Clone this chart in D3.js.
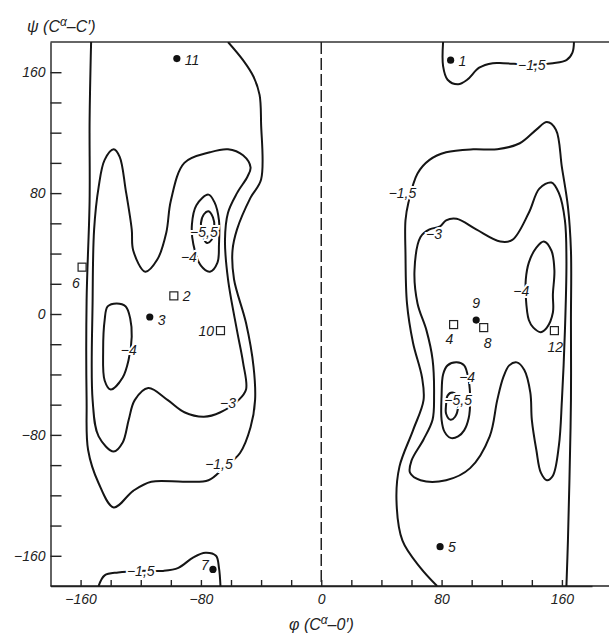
<!DOCTYPE html>
<html>
<head>
<meta charset="utf-8">
<script src="https://cdn.jsdelivr.net/npm/d3@7"></script>
<style>
  body { margin: 0; background: #fff; }
  svg { display: block; font-family: "Liberation Sans", Arimo, sans-serif; }
  .tick text { font-style: italic; font-size: 14px; fill: #222; }
  .contour { fill: none; stroke: #151515; stroke-width: 2; }
  .clabel { font-style: italic; font-size: 14px; fill: #1a1a1a;
            stroke: #fff; stroke-width: 4px; paint-order: stroke; }
  .plabel { font-style: italic; font-size: 14px; fill: #1a1a1a; }
</style>
</head>
<body>
<svg id="chart" width="609" height="636"></svg>
<script>

// contour levels as [phi, psi] points (degrees)
var levelLeft15 = [[-153,180],[-154,128],[-154,75],[-156,9],[-156,-57],[-155,-90],[-148,-112],
  [-138,-128],[-125,-117],[-113,-111],[-91,-111],[-75,-110],[-65,-102],[-54,-92],[-47,-75],
  [-44,-57],[-45,-35],[-50,-6],[-58,23],[-59,42],[-56,56],[-47,77],[-40,89],[-40,126],
  [-41,145],[-45,157],[-52,168],[-62,180]];

var levelLeft3 = [[-138,109],[-134,104],[-130,82],[-126,56],[-125,42],[-117,28],[-109,36],
  [-103,54],[-100,75],[-91,100],[-74,107],[-62,109],[-52,105],[-47,97],[-49,91],[-56,80],
  [-62,67],[-64,49],[-62,23],[-56,-11],[-52,-32],[-50,-50],[-55,-57],[-67,-65],[-78,-68],
  [-91,-65],[-102,-57],[-115,-49],[-124,-57],[-128,-70],[-132,-85],[-138,-91],[-148,-81],
  [-152,-57],[-152,9],[-151,56],[-148,84],[-144,102]];

var levelLeft4a = [[-136,7],[-130,5],[-127,-3],[-126,-15],[-128,-30],[-132,-42],[-140,-50],
  [-144,-44],[-145,-24],[-144,-4],[-142,5]];

var levelLeft4b = [[-75,79],[-71,74],[-68,62],[-68,46],[-69,34],[-74,28],[-80,32],[-85,46],
  [-86,59],[-83,72]];

var levelLeft55 = [[-75,68],[-72,64],[-71,57],[-73,49],[-76,47],[-79,52],[-80,60],[-78,66]];

var levelBottom15 = [[-148,-180],[-144,-173],[-135,-171],[-120,-170],[-105,-170],[-95,-168],
  [-85,-161],[-77,-158],[-70,-160],[-68,-168],[-67,-180]];

var levelTop15 = [[81,180],[81,164],[84,155],[91,152],[97,155],[105,163],[114,166],[121,166],
  [140,165],[154,166],[163,168],[167,173],[168,180]];

var levelRight15 = [[77,-180],[66,-168],[54,-150],[50,-123],[52,-101],[61,-77],[68,-57],
  [67,-42],[61,-19],[57,7],[56,40],[56,62],[58,74],[64,93],[72,102],[83,107],[101,109],
  [117,109],[132,113],[143,122],[150,127],[156,122],[160,97],[164,71],[166,42],[166,-4],
  [166,-57],[165,-110],[164,-150],[163,-180]];

var levelRight3 = [[79,58],[83,62],[90,63],[103,56],[119,48],[127,49],[138,67],[145,83],
  [153,87],[158,80],[162,62],[163,36],[162,-11],[160,-57],[158,-87],[154,-107],[150,-110],
  [146,-105],[143,-90],[140,-70],[139,-52],[135,-37],[130,-32],[125,-34],[121,-42],
  [117,-57],[112,-81],[99,-102],[83,-110],[66,-110],[59,-105],[60,-97],[68,-83],[74,-70],
  [75,-54],[74,-30],[70,-11],[64,7],[62,29],[66,51],[72,56]];

var levelRight4a = [[148,48],[153,42],[155,29],[154,13],[154,1],[150,-9],[146,-12],[141,-9],
  [138,-4],[136,11],[136,23],[138,34],[143,44]];

var levelRight4b = [[80,-70],[80,-54],[81,-40],[84,-34],[90,-32],[95,-34],[98,-44],[99,-57],
  [98,-69],[95,-77],[91,-81],[86,-82],[82,-78]];

var levelRight55 = [[87,-52],[90,-54],[91,-61],[89,-68],[86,-70],[83,-66],[83,-60],[84,-54]];

var contours = [
  { pts: levelLeft15, closed: false }, { pts: levelLeft3, closed: true },
  { pts: levelLeft4a, closed: true }, { pts: levelLeft4b, closed: true },
  { pts: levelLeft55, closed: true }, { pts: levelBottom15, closed: false },
  { pts: levelTop15, closed: false }, { pts: levelRight15, closed: false },
  { pts: levelRight3, closed: true }, { pts: levelRight4a, closed: true },
  { pts: levelRight4b, closed: true }, { pts: levelRight55, closed: true }
];

// contour value labels
var levelNames = ["−1,5", "−1,5", "−1,5", "−1,5", "−3", "−3", "−4", "−4", "−4", "−4", "−5,5", "−5,5"];
var levelAt = [[140,165],[54,80],[-68,-99],[-120,-170],[-62,-59],[75,53],[-128,-24],[-88,38],
  [133,15],[97,-42],[-78,54],[91,-57]];

// conformations: dots and squares
var dotNames = ["1", "11", "3", "9", "5", "7"];
var dotAt = [[86,168],[-96,169],[-114,-2],[103,-4],[79,-154],[-72,-169]];
var squareNames = ["6", "2", "10", "4", "8", "12"];
var squareAt = [[-159,31],[-98,12],[-67,-11],[88,-7],[108,-9],[155,-11]];

var ticks = d3.range(-160, 161, 20);

var svg = d3.select('#chart');
var x = d3.scaleLinear().domain([-180, 180]).range([50.5, 592]);
var y = d3.scaleLinear().domain([-180, 180]).range([586, 42]);

// clip to the map
svg.append('clipPath').attr('id', 'map')
  .append('rect').attr('x', 50.5).attr('y', 42).attr('width', 560).attr('height', 544);

// frame lines
svg.append('line').attr('x1', 50.5).attr('x2', 609).attr('y1', y(180)).attr('y2', y(180))
  .attr('stroke', '#333').attr('stroke-width', 1.4);

// phi = 0 dashed line
svg.append('line').attr('x1', x(0)).attr('x2', x(0)).attr('y1', y(180)).attr('y2', y(-180))
  .attr('stroke', '#222').attr('stroke-width', 1.5).attr('stroke-dasharray', '12,4');

// axes
var fmt = function(d){ return d % 80 === 0 ? d3.format('d')(d) : ''; };

svg.append('g')
  .attr('transform', 'translate(50.5,0)')
  .call(d3.axisLeft(y).tickValues(ticks).tickSize(-11).tickSizeOuter(0).tickPadding(5).tickFormat(fmt));

svg.append('g')
  .attr('transform', 'translate(0,586)')
  .call(d3.axisBottom(x).tickValues(ticks).tickSize(-6).tickSizeOuter(0).tickPadding(8).tickFormat(fmt));

svg.selectAll('.domain, .tick line').attr('stroke', '#222').attr('stroke-width', 1.4);
svg.append('line').attr('x1', 50.5).attr('x2', 609).attr('y1', 586).attr('y2', 586)
  .attr('stroke', '#222').attr('stroke-width', 1.6);

// contours
var g = svg.append('g').attr('clip-path', 'url(#map)');
contours.forEach(function(c){
  var line = d3.line()
    .x(function(d){ return x(d[0]); })
    .y(function(d){ return y(d[1]); })
    .curve(c.closed ? d3.curveCatmullRomClosed.alpha(0.5) : d3.curveCatmullRom.alpha(0.5));
  g.append('path').attr('class', 'contour').attr('d', line(c.pts));
});

g.selectAll('.clabel').data(levelNames).enter().append('text')
  .attr('class', 'clabel')
  .attr('x', function(d, i){ return x(levelAt[i][0]); })
  .attr('y', function(d, i){ return y(levelAt[i][1]); })
  .attr('text-anchor', 'middle')
  .attr('dominant-baseline', 'central')
  .text(function(d){ return d; });

// points
svg.selectAll('.dot').data(dotAt).enter().append('circle')
  .attr('cx', function(d){ return x(d[0]); })
  .attr('cy', function(d){ return y(d[1]); })
  .attr('r', 3.6).attr('fill', '#111');

svg.selectAll('.sq').data(squareAt).enter().append('rect')
  .attr('x', function(d){ return x(d[0]) - 4; })
  .attr('y', function(d){ return y(d[1]) - 4; })
  .attr('width', 8).attr('height', 8)
  .attr('fill', '#fff').attr('stroke', '#222').attr('stroke-width', 1.2);

// label offsets (px) for each point label
var dotOff = [[8,1],[8,1],[8,3],[-4,-17],[8,0],[-12,-4]];
var sqOff = [[-10,16],[9,0],[-22,0],[-8,14],[0,15],[-7,16]];

svg.selectAll('.dl').data(dotNames).enter().append('text')
  .attr('class', 'plabel')
  .attr('x', function(d, i){ return x(dotAt[i][0]) + dotOff[i][0]; })
  .attr('y', function(d, i){ return y(dotAt[i][1]) + dotOff[i][1]; })
  .attr('dominant-baseline', 'central')
  .text(function(d){ return d; });

svg.selectAll('.sl').data(squareNames).enter().append('text')
  .attr('class', 'plabel')
  .attr('x', function(d, i){ return x(squareAt[i][0]) + sqOff[i][0]; })
  .attr('y', function(d, i){ return y(squareAt[i][1]) + sqOff[i][1]; })
  .attr('dominant-baseline', 'central')
  .text(function(d){ return d; });

// axis titles
var yt = svg.append('text').attr('x', 27).attr('y', 32)
  .style('font-style', 'italic').style('font-size', '16px').attr('fill', '#222');
yt.append('tspan').text('ψ (C');
yt.append('tspan').attr('dy', -6).style('font-size', '12px').text('α');
yt.append('tspan').attr('dy', 6).text('–C′)');

var xt = svg.append('text').attr('x', 289).attr('y', 630)
  .style('font-style', 'italic').style('font-size', '16px').attr('fill', '#222');
xt.append('tspan').text('φ (C');
xt.append('tspan').attr('dy', -6).style('font-size', '12px').text('α');
xt.append('tspan').attr('dy', 6).text('–0′)');

</script>
</body>
</html>
